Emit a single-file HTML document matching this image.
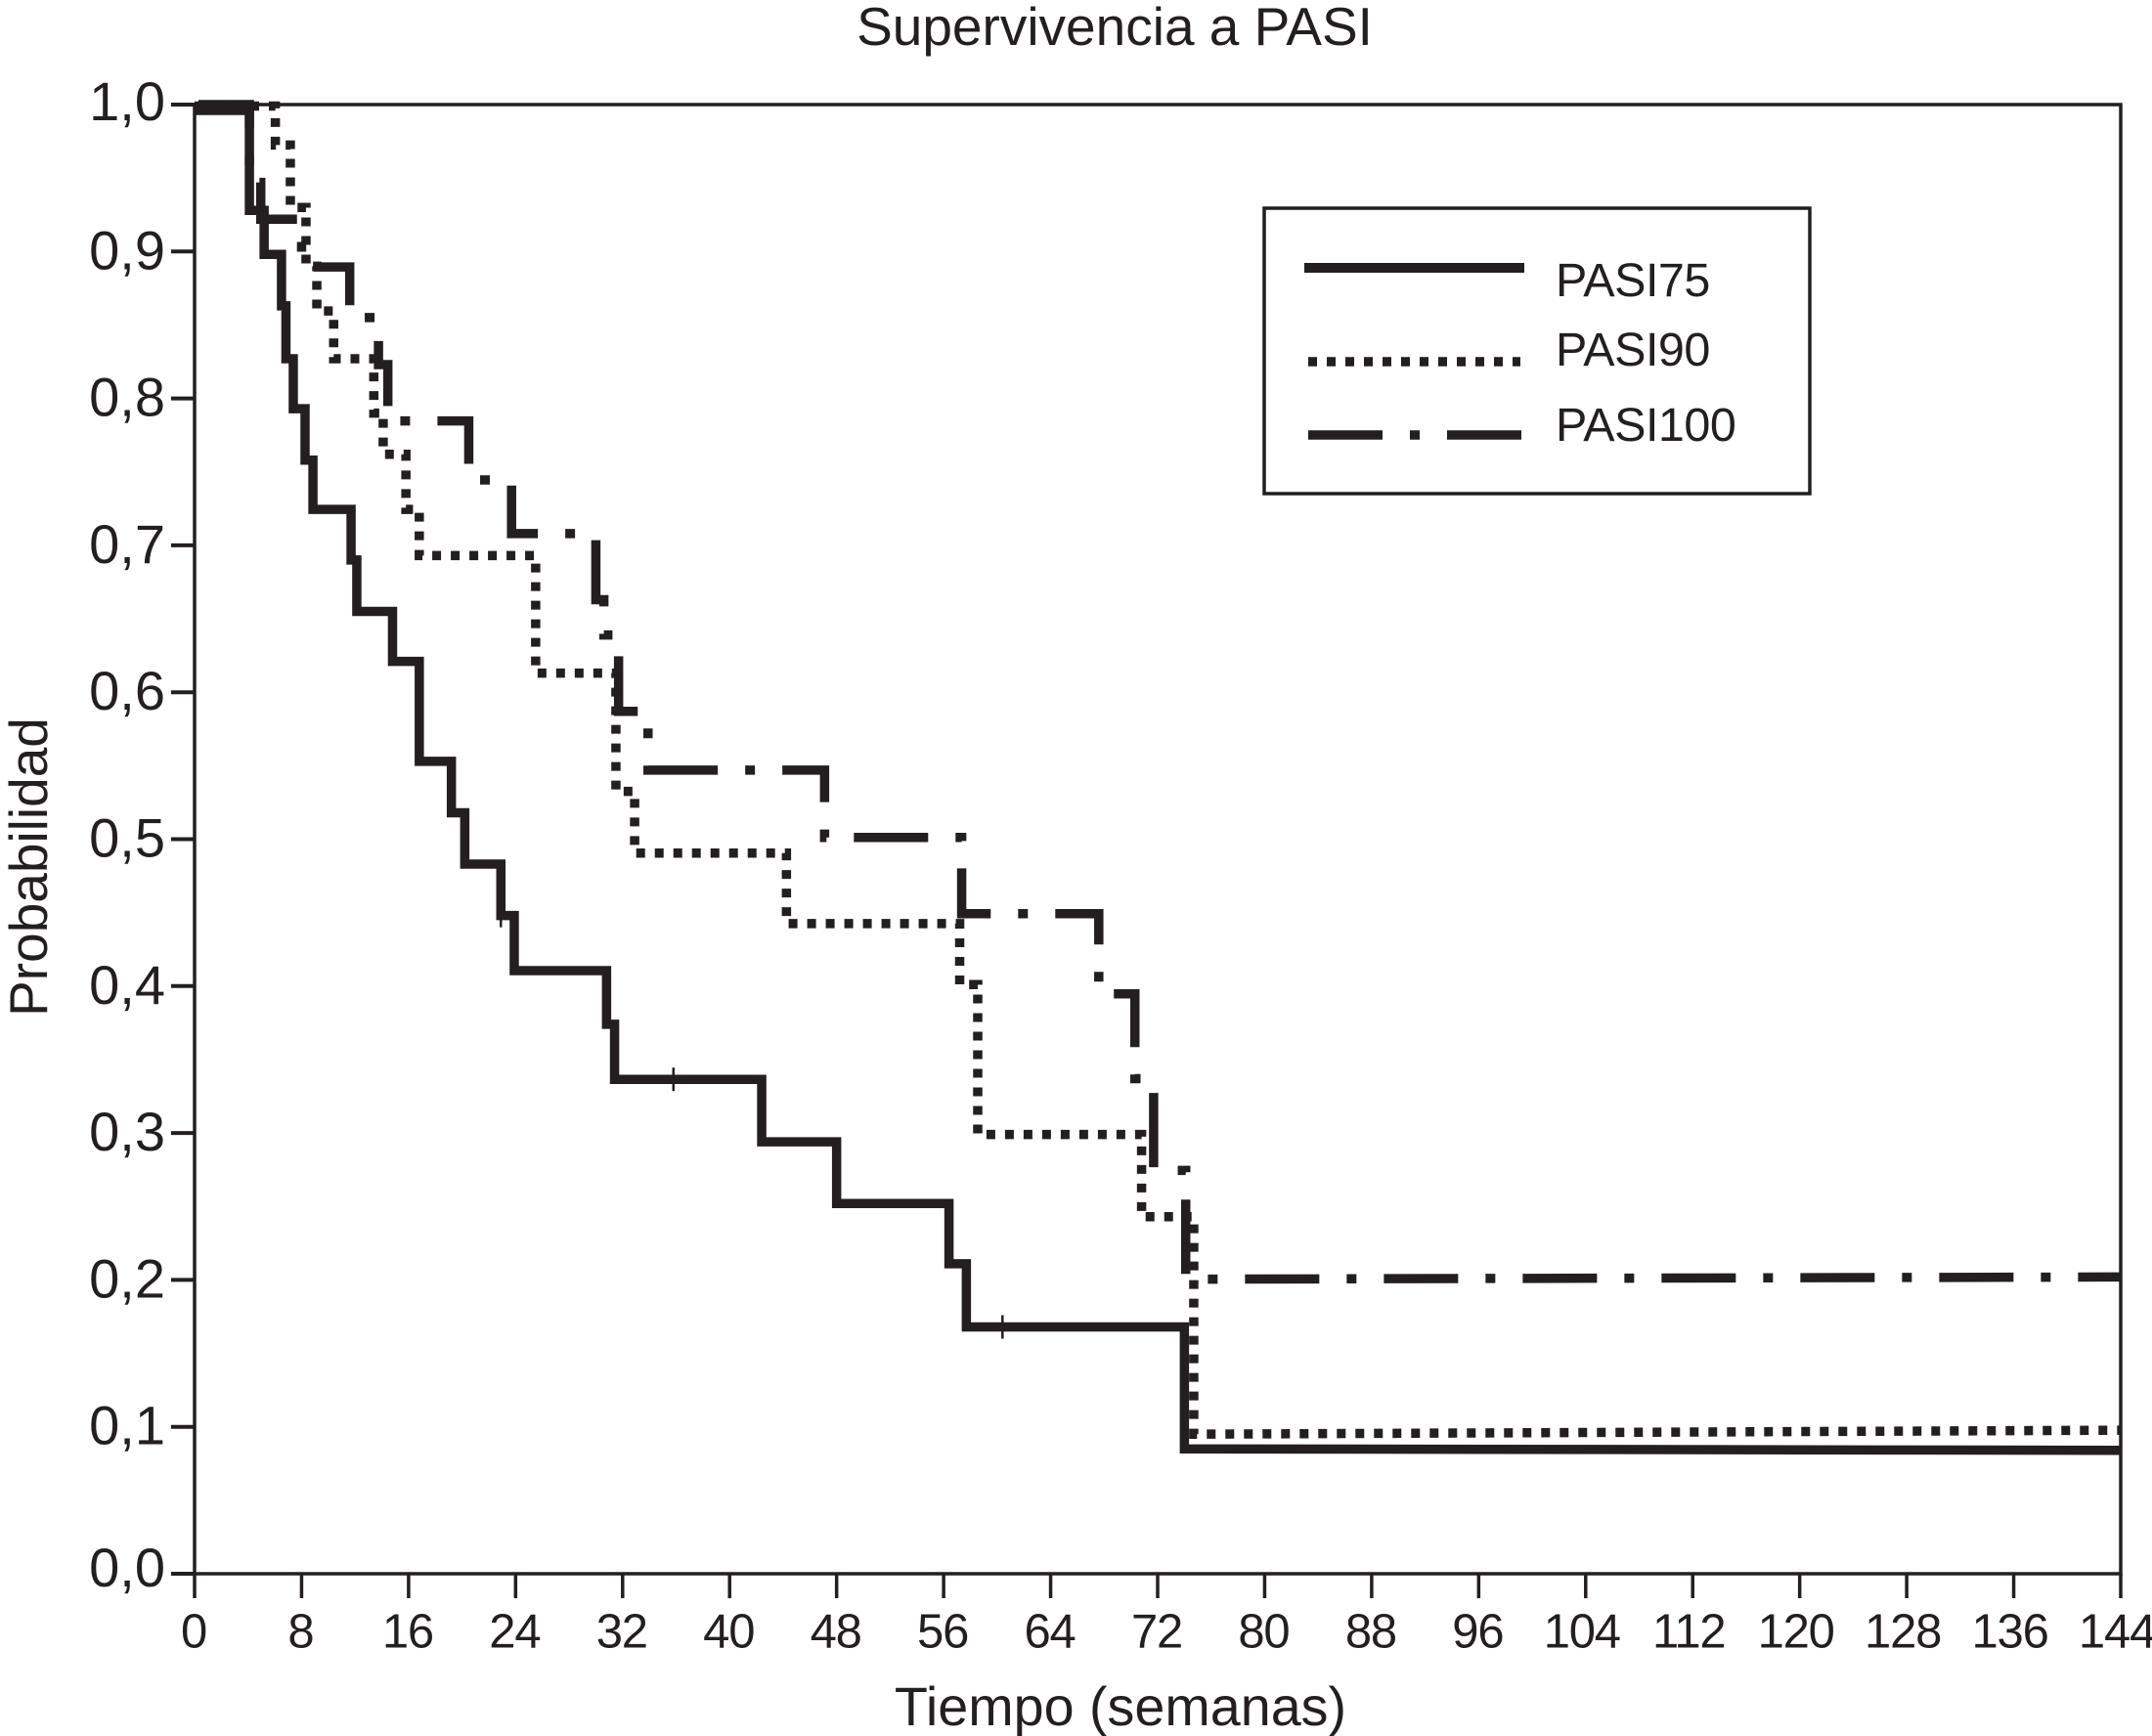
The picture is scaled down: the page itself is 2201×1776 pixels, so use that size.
<!DOCTYPE html>
<html lang="es">
<head>
<meta charset="utf-8">
<title>Supervivencia a PASI</title>
<style>
html,body{margin:0;padding:0;background:#fff;width:2201px;height:1776px;overflow:hidden}
svg{display:block}
text{font-family:"Liberation Sans",Arial,sans-serif;fill:#231f20}
</style>
</head>
<body>
<svg id="chart" xmlns="http://www.w3.org/2000/svg" width="2201" height="1776" viewBox="0 0 2201 1776">
  <rect x="0" y="0" width="2201" height="1776" fill="#fff"/>
  <text x="1140" y="46" font-size="55" text-anchor="middle">Supervivencia a PASI</text>
  <text x="1146" y="1765" font-size="55.7" text-anchor="middle">Tiempo (semanas)</text>
  <text transform="translate(48 887) rotate(-90)" font-size="55" text-anchor="middle">Probabilidad</text>
  <rect x="199" y="107" width="1970" height="1503" fill="none" stroke="#231f20" stroke-width="3.5"/>
  <g id="axes"></g>
  <g id="series"></g>
  <g>
    <rect x="1293" y="213" width="558" height="292" fill="#fff" stroke="#231f20" stroke-width="3.5"/>
    <line x1="1334" x2="1559" y1="274" y2="274" stroke="#231f20" stroke-width="10"/>
    <line x1="1338" x2="1555" y1="370" y2="370" stroke="#231f20" stroke-width="9.5" stroke-dasharray="9 10"/>
    <line x1="1338" x2="1556" y1="445" y2="445" stroke="#231f20" stroke-width="9.5" stroke-dasharray="76 28 10 28"/>
    <text x="1591" y="303" font-size="48.5" letter-spacing="-0.5">PASI75</text>
    <text x="1591" y="374" font-size="48.5" letter-spacing="-0.5">PASI90</text>
    <text x="1591" y="451" font-size="48.5" letter-spacing="-0.5">PASI100</text>
  </g>
</svg>
<script>
const xTickLabels = [0,8,16,24,32,40,48,56,64,72,80,88,96,104,112,120,128,136,144];
const yTickLabels = [0.0,0.1,0.2,0.3,0.4,0.5,0.6,0.7,0.8,0.9,1.0];

const pasi75Weeks = [0,4.1,5.2,6.5,6.83,7.38,8.26,8.85,11.7,12.13,14.8,16.8,19.2,20.2,22.9,23.9,30.8,31.4,42.4,48,56.4,57.7,74,144];
const pasi75Values = [0.996,0.928,0.898,0.863,0.827,0.793,0.758,0.7245,0.69,0.655,0.621,0.553,0.518,0.483,0.448,0.4105,0.374,0.3365,0.294,0.252,0.211,0.168,0.085,0.084];

const pasi90Weeks = [0,6.04,7.16,8.33,9.14,10.4,13.4,14.1,15.8,16.8,25.5,31.5,32.9,44.25,57.2,58.55,70.8,74.7,144];
const pasi90Values = [0.999,0.9725,0.93,0.89,0.8595,0.827,0.79,0.762,0.7245,0.693,0.613,0.5325,0.4905,0.4425,0.401,0.299,0.243,0.095,0.0977];

const pasi100Weeks = [0,4.1,4.95,8,11.6,13.75,14.45,20.5,21.7,23.7,30,30.6,31.7,33.9,47.1,57.35,67.6,70.3,71.7,74.1,144];
const pasi100Values = [1,0.947,0.922,0.8895,0.855,0.823,0.7847,0.7445,0.7445,0.708,0.663,0.639,0.587,0.547,0.5012,0.4493,0.3947,0.337,0.2745,0.2005,0.202];

const censorWeeks = [22.9,35.8,60.4];
const censorValues = [0.448,0.3365,0.168];

const SVG_NS = 'http://www.w3.org/2000/svg';
const INK = '#231f20';
const plotLeft = 199, plotRight = 2169, plotTop = 107, plotBottom = 1610;
const xMax = 144, yMax = 1;
function xScale(week){ return plotLeft + (week / xMax) * (plotRight - plotLeft); }
function yScale(value){ return plotBottom - (value / yMax) * (plotBottom - plotTop); }

function svgEl(tag, attrs){
  const el = document.createElementNS(SVG_NS, tag);
  for (const k in attrs) el.setAttribute(k, attrs[k]);
  return el;
}

const axes = document.getElementById('axes');
xTickLabels.forEach(function(v){
  const x = xScale(v);
  const tick = svgEl('line', {x1:x, x2:x, y1:plotBottom, y2:1635, stroke:INK, 'stroke-width':3.5});
  
  
  axes.appendChild(tick);
  const label = svgEl('text', {x:x - (v >= 100 ? 4 : 1), y:1685.5, 'font-size':49, 'text-anchor':'middle', 'letter-spacing':-1.2});
  
  
  label.textContent = String(v);
  axes.appendChild(label);
});
yTickLabels.forEach(function(v){
  const y = yScale(v);
  const tick = svgEl('line', {x1:175, x2:plotLeft, y1:y, y2:y, stroke:INK, 'stroke-width':4});
  
  
  axes.appendChild(tick);
  const label = svgEl('text', {x:169, y:y + (v === 0 ? 13 : (v === 1 ? 16 : 18)), 'font-size':56, 'text-anchor':'end'});
  
  
  label.textContent = v.toFixed(1).replace('.', ',');
  axes.appendChild(label);
});

function stepPath(weeks, values){
  let d = 'M' + xScale(weeks[0]) + ' ' + yScale(values[0]);
  for (let i = 1; i < weeks.length; i++){
    if (i === weeks.length - 1){
      d += 'L' + xScale(weeks[i]) + ' ' + yScale(values[i]);
    } else {
      d += 'H' + xScale(weeks[i]) + 'V' + yScale(values[i]);
    }
  }
  return d;
}

const seriesGroup = document.getElementById('series');

const line100 = svgEl('path', {d:stepPath(pasi100Weeks, pasi100Values), fill:'none', stroke:INK, 'stroke-width':9.5, 'stroke-dasharray':'76 28 10 28', 'stroke-dashoffset':-4, 'stroke-linejoin':'miter'});


seriesGroup.appendChild(line100);

const line90 = svgEl('path', {d:stepPath(pasi90Weeks, pasi90Values), fill:'none', stroke:INK, 'stroke-width':9.5, 'stroke-dasharray':'9 10', 'stroke-linejoin':'miter'});


seriesGroup.appendChild(line90);

const line75 = svgEl('path', {d:stepPath(pasi75Weeks, pasi75Values), fill:'none', stroke:INK, 'stroke-width':9.5, 'stroke-linejoin':'miter'});


seriesGroup.appendChild(line75);

censorWeeks.forEach(function(w, i){
  const cx = xScale(w), cy = yScale(censorValues[i]);
  const mark = svgEl('line', {x1:cx, x2:cx, y1:cy - 12, y2:cy + 12, stroke:INK, 'stroke-width':2.5});
  
  
  seriesGroup.appendChild(mark);
});
</script>
</body>
</html>
